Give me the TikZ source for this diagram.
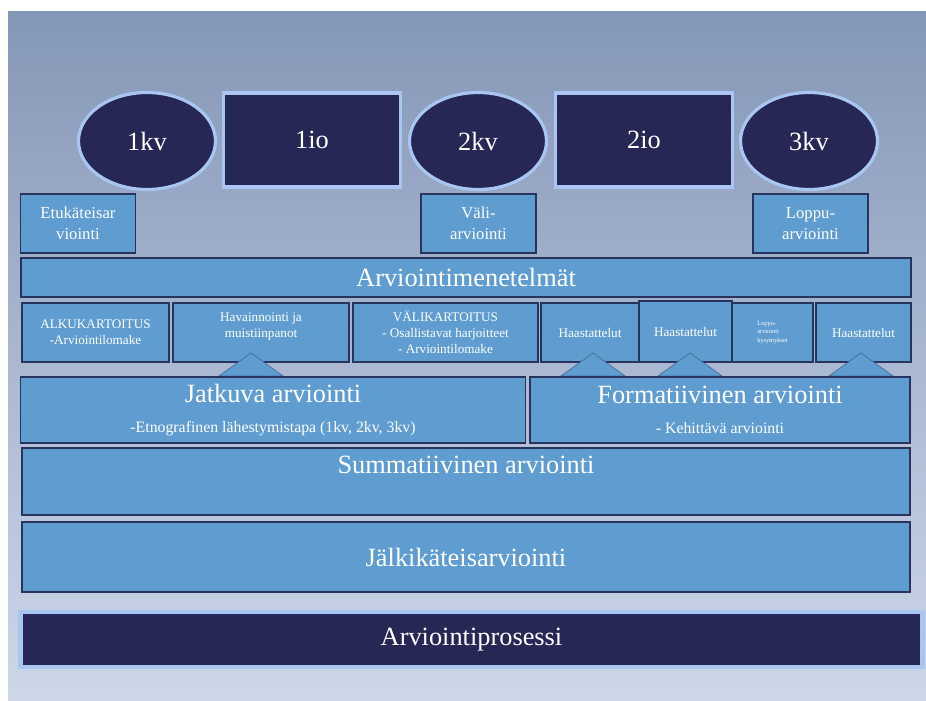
\documentclass[tikz,border=0pt]{standalone}
\usepackage{fontspec}
\setmainfont{Liberation Serif}
\usetikzlibrary{shapes.geometric}
\definecolor{taustaYla}{HTML}{8597B7}
\definecolor{taustaAla}{HTML}{CDD7E9}
\definecolor{sininen}{HTML}{5F9DD0}
\definecolor{reunasin}{HTML}{28335E}
\definecolor{yonsini}{HTML}{262754}
\definecolor{hehku}{HTML}{A9C6F2}
\begin{document}
\begin{tikzpicture}[x=0.02cm,y=-0.02cm,
	laatikko/.style={draw=reunasin,fill=sininen,text=white,line width=0.8pt,inner sep=1pt,align=center},
	tumma/.style={draw=hehku,fill=yonsini,text=white,line width=1.8pt,font=\fontsize{15}{18}\selectfont},
	pallo/.style={tumma,ellipse,minimum width=2.74cm,minimum height=1.94cm},
	jakso/.style={tumma,minimum width=3.54cm,minimum height=1.88cm},
	pieni/.style={laatikko,minimum width=2.3cm,minimum height=1.18cm,font=\fontsize{9.5}{12}\selectfont},
	menetelma/.style={laatikko,minimum height=1.18cm,font=\fontsize{7.5}{9}\selectfont},
	iso/.style={laatikko,font=\fontsize{15}{18}\selectfont},
	kolmio/.style={fill=sininen,draw=reunasin!45!sininen,line width=0.4pt}]
	\useasboundingbox (0,0) rectangle (926,700);
	\fill[white] (0,0) rectangle (926,700);
	\shade[top color=taustaYla,bottom color=taustaAla] (8,11) rectangle (926,700); %tausta
	% kurssit ja jaksot
	\node[pallo] (kv1) at (147,141) {1kv};
	\node[jakso] (io1) at (312,140) {1io};
	\node[pallo] (kv2) at (478,141) {2kv};
	\node[jakso] (io2) at (644,140) {2io};
	\node[pallo] (kv3) at (809,141) {3kv};
	% arvioinnin vaiheet
	\node[pieni] (etu) at (78,223.5) {Etukäteisar\\viointi};
	\node[pieni] (vali) at (478.5,223.5) {Väli-\\arviointi};
	\node[pieni] (loppu) at (810.5,223.5) {Loppu-\\arviointi};
	\node[iso,minimum width=17.8cm,minimum height=0.78cm] (menetelmat) at (466,277.5) {Arviointimenetelmät};
	% menetelmat
	\node[menetelma,minimum width=2.94cm] (alku) at (95.5,332.5) {ALKUKARTOITUS\\-Arviointilomake};
	\node[menetelma,minimum width=3.52cm,text depth=0.3cm] (hav) at (261,332.5) {Havainnointi ja\\muistiinpanot};
	\node[menetelma,minimum width=3.7cm] (valik) at (445.5,332.5) {VÄLIKARTOITUS\\- Osallistavat harjoitteet\\- Arviointilomake};
	\node[menetelma,minimum width=1.96cm] (haas1) at (590,332.5) {Haastattelut};
	\node[menetelma,minimum width=1.86cm,minimum height=1.22cm] (haas2) at (685.5,331.5) {Haastattelut};
	\node[menetelma,minimum width=1.62cm,align=left,font=\fontsize{3.6}{5}\selectfont] (kys) at (772.5,332.5) {Loppu-\\arviointi\\kysymykset};
	\node[menetelma,minimum width=1.9cm] (haas3) at (863.5,332.5) {Haastattelut};
	\filldraw[kolmio] (251,353) -- (283,376) -- (219,376) -- cycle;
	\filldraw[kolmio] (593,353) -- (625,376) -- (561,376) -- cycle;
	\filldraw[kolmio] (690,353) -- (722,376) -- (658,376) -- cycle;
	\filldraw[kolmio] (861,353) -- (893,376) -- (829,376) -- cycle;
	% arviointitavat
	\node[iso,minimum width=10.1cm,minimum height=1.32cm] (jatkuva) at (273,410) {Jatkuva arviointi\\[-1pt]{\fontsize{9}{11}\selectfont -Etnografinen lähestymistapa (1kv, 2kv, 3kv)}};
	\node[iso,minimum width=7.6cm,minimum height=1.32cm] (form) at (720,410) {Formatiivinen arviointi\\[-1pt]{\fontsize{9}{11}\selectfont - Kehittävä arviointi}};
	\node[iso,minimum width=17.76cm,minimum height=1.34cm,text height=0.3cm,text depth=0.62cm] (summa) at (466,481.5) {Summatiivinen arviointi};
	\node[iso,minimum width=17.76cm,minimum height=1.4cm] (jalki) at (466,557) {Jälkikäteisarviointi};
	\node[tumma,line width=2.4pt,minimum width=18.04cm,minimum height=1.1cm] (prosessi) at (471.5,639.5) {Arviointiprosessi};
\end{tikzpicture}
\end{document}
